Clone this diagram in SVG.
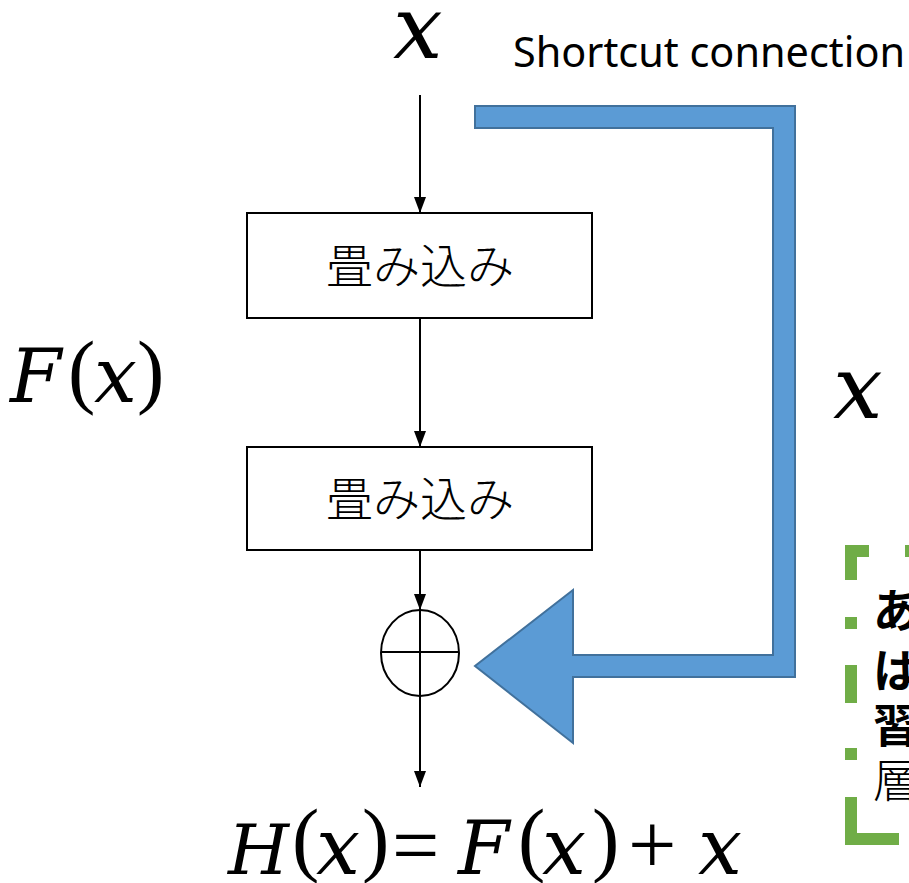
<svg xmlns="http://www.w3.org/2000/svg" width="909" height="883" viewBox="0 0 909 883">
<style>
.m{font-family:"DejaVu Serif","Liberation Serif",serif;font-style:italic;fill:#000}
.u{font-family:"Liberation Serif","DejaVu Serif",serif;fill:#000}
.box{fill:#fff;stroke:#000;stroke-width:2}
.jp{font-family:"Noto Sans CJK JP",sans-serif;font-weight:300;font-size:47px;fill:#000}
.con{stroke:#000;stroke-width:2;fill:none}
.g{stroke:#70ad47;stroke-width:12;fill:none;stroke-linejoin:miter}
.side{font-family:"Noto Sans CJK JP",sans-serif;font-size:46px;fill:#000}
</style>
<defs>
<marker id="ah" markerWidth="16" markerHeight="12" refX="16" refY="6" orient="auto" markerUnits="userSpaceOnUse" viewBox="0 0 16 12">
<path d="M0,0 L16,6 L0,12 Z" fill="#000"/>
</marker>
</defs>
<rect width="909" height="883" fill="#fff"/>
<g id="connectors">
<line class="con" x1="420" y1="95" x2="420" y2="213" marker-end="url(#ah)"/>
<line class="con" x1="420" y1="318" x2="420" y2="447" marker-end="url(#ah)"/>
<line class="con" x1="420" y1="550" x2="420" y2="610" marker-end="url(#ah)"/>
<line class="con" x1="420" y1="696" x2="420" y2="787" marker-end="url(#ah)"/>
</g>
<g id="shortcut">
<polygon points="475,106 795,106 795,677 573,677 573,743 475,666 573,590 573,655 773,655 773,128 475,128" fill="#5b9bd5" stroke="#41719c" stroke-width="2"/>
</g>
<g id="input-x"><text class="m" x="393" y="58" font-size="88">x</text></g>
<g id="shortcut-label"><text x="513" y="67" font-family="Noto Sans, Open Sans, sans-serif" font-size="41" textLength="392" lengthAdjust="spacingAndGlyphs">Shortcut connection</text></g>
<g id="conv1">
<rect class="box" x="247" y="213" width="345" height="105"/>
<text class="jp" x="420" y="283" text-anchor="middle">畳み込み</text>
</g>
<g id="conv2">
<rect class="box" x="247" y="447" width="345" height="103"/>
<text class="jp" x="420" y="516" text-anchor="middle">畳み込み</text>
</g>
<g id="add">
<ellipse cx="420" cy="653" rx="39" ry="43" fill="#fff" stroke="#000" stroke-width="2"/>
<line class="con" x1="381" y1="652" x2="459" y2="652"/>
<line class="con" x1="420" y1="610" x2="420" y2="696"/>
</g>
<g id="fx-label">
<text class="m" x="10" y="402" font-size="74">F</text>
<text class="u" x="68" y="398" font-size="82">(</text>
<text class="m" x="94" y="402" font-size="76">x</text>
<text class="u" x="137" y="398" font-size="82">)</text>
</g>
<g id="x-right"><text class="m" x="833" y="418" font-size="88">x</text></g>
<g id="formula">
<text class="m" x="228" y="874" font-size="70">H</text>
<text class="u" x="292" y="866" font-size="82">(</text>
<text class="m" x="316" y="874" font-size="78">x</text>
<text class="u" x="362" y="866" font-size="82">)</text>
<text class="u" x="392" y="874" font-size="84">=</text>
<text class="m" x="458" y="874" font-size="74">F</text>
<text class="u" x="518" y="866" font-size="82">(</text>
<text class="m" x="542" y="874" font-size="78">x</text>
<text class="u" x="592" y="866" font-size="82">)</text>
<text class="u" x="628" y="874" font-size="86">+</text>
<text class="m" x="698" y="874" font-size="78">x</text>
</g>
<g id="note">
<path class="g" d="M869,551 H851 V580"/>
<path class="g" d="M905,551 H915"/>
<path class="g" d="M851,617 V629"/>
<path class="g" d="M851,665 V703"/>
<path class="g" d="M851,748 V760"/>
<path class="g" d="M851,797 V839 H899"/>
<text class="side" x="873" y="627" font-weight="700">あ</text>
<text class="side" x="873" y="687" font-weight="700">は</text>
<text class="side" x="873" y="742" font-weight="700">習</text>
<text class="side" x="873" y="797" font-weight="300">層</text>
</g>
</svg>
